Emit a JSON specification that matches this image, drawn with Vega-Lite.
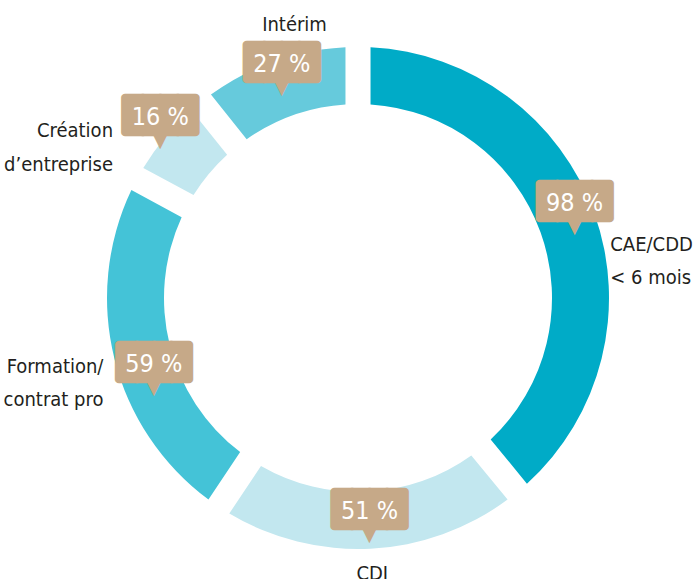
{
  "$schema": "https://vega.github.io/schema/vega-lite/v6.json",
  "width": 678,
  "height": 562,
  "autosize": {"type": "none"},
  "padding": {"left": 19, "top": 17, "right": 0, "bottom": 0},
  "background": "white",
  "config": {"view": {"stroke": null}},
  "data": {
    "values": [
      {"categorie": "CAE/CDD < 6 mois", "libelle": "CAE/CDD\n< 6 mois", "pct": 98, "etiquette": "98 %", "ordre": 1},
      {"categorie": "CDI", "libelle": "CDI", "pct": 51, "etiquette": "51 %", "ordre": 2},
      {"categorie": "Formation/contrat pro", "libelle": "Formation/\ncontrat pro", "pct": 59, "etiquette": "59 %", "ordre": 3},
      {"categorie": "Création d’entreprise", "libelle": "Création\nd’entreprise", "pct": 16, "etiquette": "16 %", "ordre": 4},
      {"categorie": "Intérim", "libelle": "Intérim", "pct": 27, "etiquette": "27 %", "ordre": 5}
    ]
  },
  "encoding": {
    "theta": {"field": "pct", "type": "quantitative", "stack": true},
    "order": {"field": "ordre", "type": "quantitative"},
    "detail": {"field": "categorie", "type": "nominal"}
  },
  "layer": [
    {
      "mark": {"type": "arc", "innerRadius": 194, "outerRadius": 251, "padAngle": 0.079},
      "encoding": {
        "color": {
          "field": "categorie", "type": "nominal", "legend": null,
          "scale": {
            "domain": ["CAE/CDD < 6 mois", "CDI", "Formation/contrat pro", "Création d’entreprise", "Intérim"],
            "range": ["#00abc7", "#c2e7ef", "#44c3d7", "#c2e7ef", "#66cadc"]
          }
        }
      }
    },
    {
      "mark": {"type": "text", "radius": 230, "dy": 12, "font": "DejaVu Sans", "fontSize": 26, "color": "#c6a988", "align": "center", "baseline": "alphabetic"},
      "encoding": {"text": {"condition": {"test": "datum.ordre !== 3 && datum.ordre !== 4", "value": "▼"}, "value": ""}}
    },
    {
      "mark": {"type": "text", "radius": 230, "dy": -9, "font": "DejaVu Sans Mono", "fontSize": 29, "color": "#c6a988", "stroke": "#c6a988", "strokeWidth": 8, "strokeJoin": "round", "align": "center", "baseline": "alphabetic"},
      "encoding": {"text": {"condition": {"test": "datum.ordre !== 3 && datum.ordre !== 4", "value": "████"}, "value": ""}}
    },
    {
      "mark": {"type": "text", "radius": 230, "dy": -9, "font": "'DejaVu Sans Condensed', Roboto, sans-serif", "fontSize": 25, "color": "#ffffff", "align": "center", "baseline": "alphabetic"},
      "encoding": {"text": {"condition": {"test": "datum.ordre !== 3 && datum.ordre !== 4", "field": "etiquette"}, "value": ""}}
    },
    {
      "mark": {"type": "text", "radius": 230, "dx": 19, "dy": 39, "font": "DejaVu Sans", "fontSize": 26, "color": "#c6a988", "align": "center", "baseline": "alphabetic"},
      "encoding": {"text": {"condition": {"test": "datum.ordre === 3", "value": "▼"}, "value": ""}}
    },
    {
      "mark": {"type": "text", "radius": 230, "dx": 19, "dy": 18, "font": "DejaVu Sans Mono", "fontSize": 29, "color": "#c6a988", "stroke": "#c6a988", "strokeWidth": 8, "strokeJoin": "round", "align": "center", "baseline": "alphabetic"},
      "encoding": {"text": {"condition": {"test": "datum.ordre === 3", "value": "████"}, "value": ""}}
    },
    {
      "mark": {"type": "text", "radius": 230, "dx": 19, "dy": 18, "font": "'DejaVu Sans Condensed', Roboto, sans-serif", "fontSize": 25, "color": "#ffffff", "align": "center", "baseline": "alphabetic"},
      "encoding": {"text": {"condition": {"test": "datum.ordre === 3", "field": "etiquette"}, "value": ""}}
    },
    {
      "mark": {"type": "text", "radius": 230, "dx": -21, "dy": -5, "font": "DejaVu Sans", "fontSize": 26, "color": "#c6a988", "align": "center", "baseline": "alphabetic"},
      "encoding": {"text": {"condition": {"test": "datum.ordre === 4", "value": "▼"}, "value": ""}}
    },
    {
      "mark": {"type": "text", "radius": 230, "dx": -21, "dy": -26, "font": "DejaVu Sans Mono", "fontSize": 29, "color": "#c6a988", "stroke": "#c6a988", "strokeWidth": 8, "strokeJoin": "round", "align": "center", "baseline": "alphabetic"},
      "encoding": {"text": {"condition": {"test": "datum.ordre === 4", "value": "████"}, "value": ""}}
    },
    {
      "mark": {"type": "text", "radius": 230, "dx": -21, "dy": -26, "font": "'DejaVu Sans Condensed', Roboto, sans-serif", "fontSize": 25, "color": "#ffffff", "align": "center", "baseline": "alphabetic"},
      "encoding": {"text": {"condition": {"test": "datum.ordre === 4", "field": "etiquette"}, "value": ""}}
    },
    {
      "mark": {"type": "text", "radius": 285, "dx": -16, "dy": 49, "align": "left", "baseline": "alphabetic", "font": "'DejaVu Sans Condensed', Roboto, sans-serif", "fontSize": 20, "color": "#231f20", "lineBreak": "\n", "lineHeight": 33},
      "encoding": {"text": {"condition": {"test": "datum.ordre === 1", "field": "libelle"}, "value": ""}}
    },
    {
      "mark": {"type": "text", "radius": 285, "dx": 0, "dy": -3, "align": "center", "baseline": "alphabetic", "font": "'DejaVu Sans Condensed', Roboto, sans-serif", "fontSize": 20, "color": "#231f20", "lineBreak": "\n", "lineHeight": 33},
      "encoding": {"text": {"condition": {"test": "datum.ordre === 2", "field": "libelle"}, "value": ""}}
    },
    {
      "mark": {"type": "text", "radius": 285, "dx": 22, "dy": 6, "align": "right", "baseline": "alphabetic", "font": "'DejaVu Sans Condensed', Roboto, sans-serif", "fontSize": 20, "color": "#231f20", "lineBreak": "\n", "lineHeight": 33},
      "encoding": {"text": {"condition": {"test": "datum.ordre === 3", "field": "libelle"}, "value": ""}}
    },
    {
      "mark": {"type": "text", "radius": 285, "dx": -26, "dy": 21, "align": "right", "baseline": "alphabetic", "font": "'DejaVu Sans Condensed', Roboto, sans-serif", "fontSize": 20, "color": "#231f20", "lineBreak": "\n", "lineHeight": 34},
      "encoding": {"text": {"condition": {"test": "datum.ordre === 4", "field": "libelle"}, "value": ""}}
    },
    {
      "mark": {"type": "text", "radius": 285, "dx": 31, "dy": 2, "align": "center", "baseline": "alphabetic", "font": "'DejaVu Sans Condensed', Roboto, sans-serif", "fontSize": 20, "color": "#231f20", "lineBreak": "\n", "lineHeight": 33},
      "encoding": {"text": {"condition": {"test": "datum.ordre === 5", "field": "libelle"}, "value": ""}}
    }
  ]
}
